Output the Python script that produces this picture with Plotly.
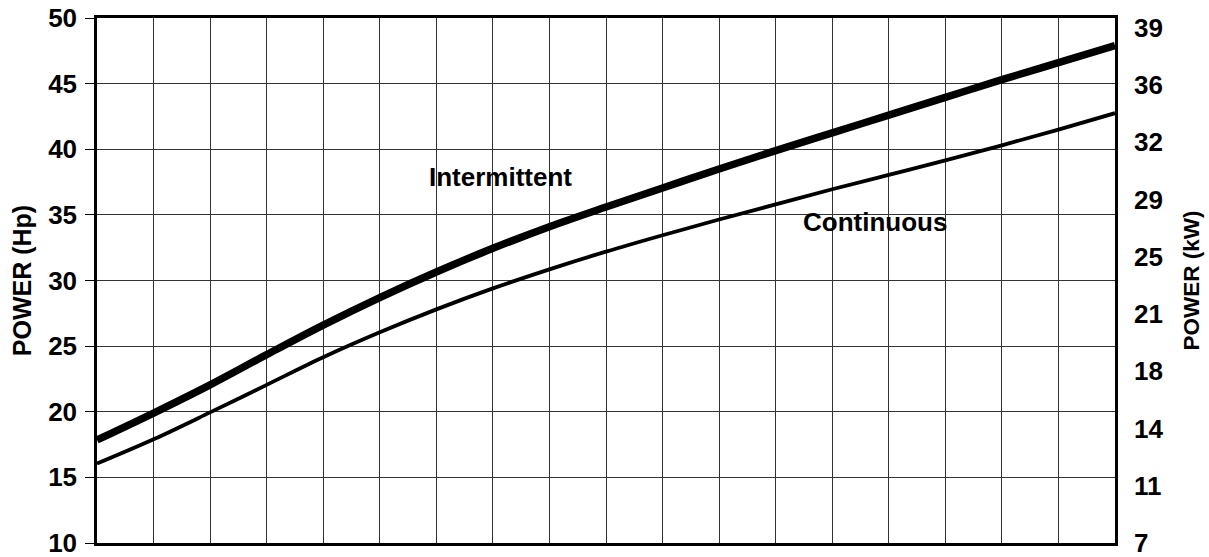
import plotly.graph_objects as go

# x positions (one per vertical grid division, no labels shown)
x_steps = list(range(19))

intermittent_hp = [17.85, 19.9, 22.05, 24.35, 26.6, 28.7, 30.65, 32.45, 34.1, 35.6,
                   37.05, 38.5, 39.9, 41.25, 42.6, 43.95, 45.3, 46.6, 47.9]
continuous_hp = [16.05, 17.9, 19.95, 22.05, 24.15, 26.05, 27.8, 29.4, 30.85, 32.2,
                 33.45, 34.65, 35.8, 36.95, 38.05, 39.15, 40.3, 41.5, 42.75]

hp_ticks = [10, 15, 20, 25, 30, 35, 40, 45, 50]
kw_tick_labels = ["7", "11", "14", "18", "21", "25", "29", "32", "36", "39"]

FONT = "Liberation Sans, Arial, Helvetica, sans-serif"
GRID = "#333333"

fig = go.Figure()
fig.add_trace(go.Scatter(x=x_steps, y=continuous_hp, mode="lines",
                         line=dict(color="black", width=3.8, shape="spline", smoothing=1.0),
                         name="Continuous", showlegend=False, hoverinfo="skip"))
fig.add_trace(go.Scatter(x=x_steps, y=intermittent_hp, mode="lines",
                         line=dict(color="black", width=7.5, shape="spline", smoothing=1.0),
                         name="Intermittent", showlegend=False, hoverinfo="skip"))
# empty trace so the secondary (kW) axis is drawn
fig.add_trace(go.Scatter(x=[], y=[], yaxis="y2", showlegend=False, hoverinfo="skip"))

fig.add_annotation(x=7.13, y=37.9, xref="x", yref="y", text="Intermittent", showarrow=False,
                   font=dict(family=FONT, size=26, color="black", weight="bold"))
fig.add_annotation(x=13.76, y=34.48, xref="x", yref="y", text="Continuous", showarrow=False,
                   font=dict(family=FONT, size=26, color="black", weight="bold"))

fig.update_layout(
    width=1209, height=557,
    margin=dict(l=97, r=94, t=18, b=14, autoexpand=False),
    paper_bgcolor="white", plot_bgcolor="white",
    xaxis=dict(range=[0, 18], dtick=1, tick0=0, showgrid=True, gridcolor=GRID, gridwidth=1,
               showticklabels=False, ticks="", zeroline=False,
               showline=True, linecolor="black", linewidth=2.5, mirror=True),
    yaxis=dict(range=[10, 50], tickvals=hp_ticks, showgrid=True, gridcolor=GRID, gridwidth=1,
               ticks="outside", ticklen=9, tickcolor="black", tickwidth=1,
               ticklabelstandoff=3, ticklabeloverflow="allow",
               tickfont=dict(family=FONT, size=26, color="black", weight="bold"),
               zeroline=False, showline=True, linecolor="black", linewidth=2.5, mirror=True,
               title=dict(text="POWER (Hp)", standoff=10,
                          font=dict(family=FONT, size=25, color="black", weight="bold"))),
    yaxis2=dict(overlaying="y", side="right", range=[0, 9.17],
                tickvals=list(range(len(kw_tick_labels))), ticktext=kw_tick_labels,
                showgrid=False, zeroline=False, ticks="", showline=False,
                ticklabelstandoff=18, ticklabeloverflow="allow",
                tickfont=dict(family=FONT, size=26, color="black", weight="bold"),
                title=dict(text="POWER (kW)", standoff=20,
                           font=dict(family=FONT, size=22.5, color="black", weight="bold"))),
)

fig.write_html("out.html", config={"displayModeBar": False},
               post_script="document.body.style.margin='0';document.body.style.overflow='hidden';")
